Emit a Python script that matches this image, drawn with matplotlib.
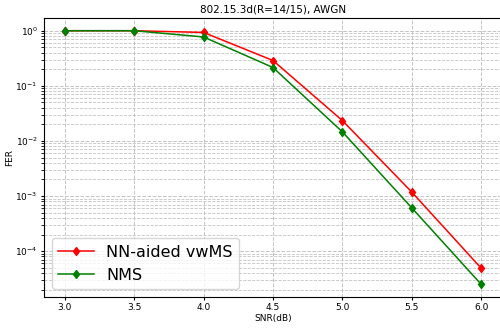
import matplotlib
matplotlib.use('Agg')
import matplotlib.pyplot as plt

snr = [3.0, 3.5, 4.0, 4.5, 5.0, 5.5, 6.0]
fer_nn_vwms = [1.0, 1.0, 0.93, 0.288, 0.0234, 0.00118, 4.9e-5]
fer_nms = [1.0, 1.0, 0.77, 0.215, 0.0146, 6.1e-4, 2.5e-5]

fig = plt.figure(figsize=(5, 3.28), dpi=100)
ax = fig.add_axes([0.088, 0.0945, 0.916, 0.8505])

ax.semilogy(snr, fer_nn_vwms, color='red', marker='d', markersize=4.5, lw=1.1, label='NN-aided vwMS')
ax.semilogy(snr, fer_nms, color='green', marker='d', markersize=4.5, lw=1.1, label='NMS')

ax.grid(True, which='major', linestyle='--', color='#c4c4c4', lw=0.7)
ax.grid(True, which='minor', linestyle='--', color='#c4c4c4', lw=0.6)
ax.set_xticks([3.0, 3.5, 4.0, 4.5, 5.0, 5.5, 6.0])
ax.tick_params(labelsize=6.5, pad=2, length=2.5)

ax.set_title('802.15.3d(R=14/15), AWGN', fontsize=7.5, pad=4)
ax.set_xlabel('SNR(dB)', fontsize=6.5, labelpad=1)
ax.set_ylabel('FER', fontsize=6.5, labelpad=1)
ax.legend(loc='lower left', fontsize=11.5, handlelength=2.2)

fig.savefig('out.png', dpi=100)
